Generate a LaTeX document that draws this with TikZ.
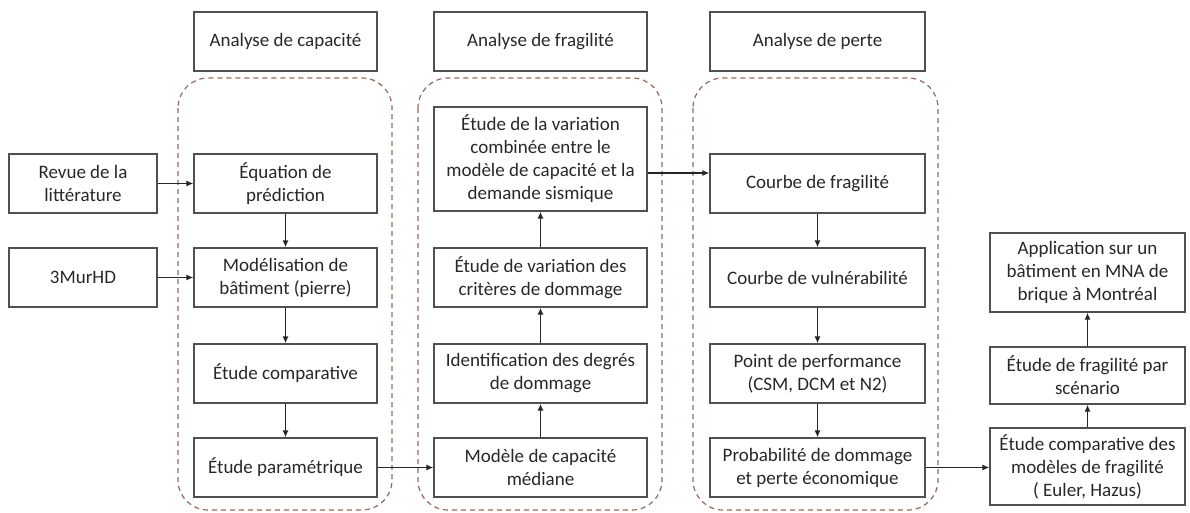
\documentclass[tikz,border=0pt]{standalone}
\usepackage{fontspec}
\setmainfont{Carlito}
\usetikzlibrary{arrows.meta,calc}
\definecolor{boxline}{RGB}{80,80,80}
\definecolor{dashcol}{RGB}{150,105,90}
\definecolor{txt}{RGB}{40,40,40}
\begin{document}
\begin{tikzpicture}[x=1pt,y=-1pt,
  box/.style={draw=boxline,line width=1.2pt,align=center,inner sep=0pt,text=txt,
    font=\fontsize{19}{23}\selectfont},
  wA/.style={minimum width=183pt},
  wB/.style={minimum width=213pt},
  wC/.style={minimum width=215pt},
  wD/.style={minimum width=195pt},
  wL/.style={minimum width=148pt},
  hN/.style={minimum height=59pt},
  container/.style={draw=dashcol,line width=1.2pt,dashed,dash pattern=on 5pt off 4pt,rounded corners=30pt},
  arr/.style={draw=black!85,line width=1.5pt,-{Latex[length=7pt,width=6pt]}}]
\useasboundingbox (0,0) rectangle (1190,512);
\fill[white] (0,0) rectangle (1190,512);

% containers
\draw[container] (178,78) rectangle (392,510);
\draw[container] (418,78) rectangle (662,510);
\draw[container] (693,78) rectangle (938,510);

% headers
\node[box,wA,hN] (hcap) at (285.5,41.5) {Analyse de capacité};
\node[box,wB,hN] (hfrag) at (540.5,41.5) {Analyse de fragilité};
\node[box,wC,hN] (hperte) at (817.5,41.5) {Analyse de perte};

% left inputs
\node[box,wL,hN] (revue) at (83,183.5) {Revue de la\\littérature};
\node[box,wL,hN] (mur) at (83,277.5) {3MurHD};

% capacity column
\node[box,wA,hN] (eq) at (285.5,183.5) {Équation de\\prédiction};
\node[box,wA,hN] (mod) at (285.5,277.5) {Modélisation de\\bâtiment (pierre)};
\node[box,wA,hN] (comp) at (285.5,373.5) {Étude comparative};
\node[box,wA,hN] (param) at (285.5,467.5) {Étude paramétrique};

% fragility column
\node[box,wB,minimum height=104pt] (comb) at (540.5,159) {Étude de la variation\\combinée entre le\\modèle de capacité et la\\demande sismique};
\node[box,wB,hN] (crit) at (540.5,277.5) {Étude de variation des\\critères de dommage};
\node[box,wB,hN] (ident) at (540.5,373.5) {Identification des degrés\\de dommage};
\node[box,wB,hN] (med) at (540.5,467.5) {Modèle de capacité\\médiane};

% loss column
\node[box,wC,hN] (cfrag) at (817.5,183.5) {Courbe de fragilité};
\node[box,wC,hN] (cvul) at (817.5,277.5) {Courbe de vulnérabilité};
\node[box,wC,hN] (point) at (817.5,373.5) {Point de performance\\(CSM, DCM et N2)};
\node[box,wC,hN] (prob) at (817.5,467.5) {Probabilité de dommage\\et perte économique};

% right column
\node[box,wD,minimum height=79pt] (app) at (1087.5,272.5) {Application sur un\\bâtiment en MNA de\\brique à Montréal};
\node[box,wD,minimum height=57pt] (scen) at (1087.5,375.5) {Étude de fragilité par\\scénario};
\node[box,wD,minimum height=77pt] (cmod) at (1087.5,466.5) {Étude comparative des\\modèles de fragilité\\( Euler, Hazus)};

% arrows
\draw[arr] (revue) -- (eq);
\draw[arr] (mur) -- (mod);
\draw[arr] (eq) -- (mod);
\draw[arr] (mod) -- (comp);
\draw[arr] (comp) -- (param);
\draw[arr] (param) -- (med);
\draw[arr] (med) -- (ident);
\draw[arr] (ident) -- (crit);
\draw[arr] (crit) -- (comb);
\coordinate (c1) at ([yshift=-14pt]comb.east);
\draw[arr] (c1) -- (c1 -| cfrag.west);
\draw[arr] (cfrag) -- (cvul);
\draw[arr] (cvul) -- (point);
\draw[arr] (point) -- (prob);
\draw[arr] (prob.east) -- (prob.east -| cmod.west);
\draw[arr] (cmod) -- (scen);
\draw[arr] (scen) -- (app);
\end{tikzpicture}
\end{document}
